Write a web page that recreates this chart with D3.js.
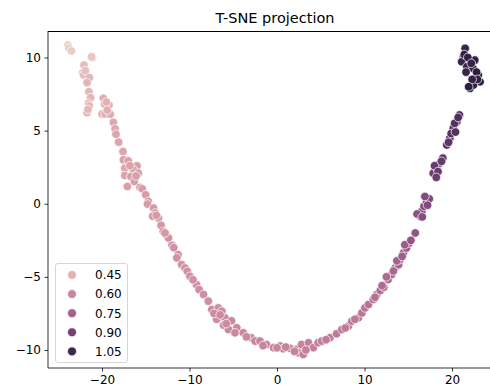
<!DOCTYPE html>
<html>
<head>
<meta charset="utf-8">
<script src="https://cdn.jsdelivr.net/npm/d3@7"></script>
<style>
  html, body { margin: 0; padding: 0; background: #fff; }
  svg { display: block; font-family: "DejaVu Sans", sans-serif; }
</style>
</head>
<body>
<svg id="chart" width="490" height="392"></svg>
<script>
const chartTitle = "T-SNE projection";

const xValues = [
  -23.9, -23.8, -23.5, -21.1, -21.2, -22.06, -22.2, -22.1, -21.9, -21.45,
  -21.7, -21.5, -21.3, -21.55, -21.45, -21.7, -21.6, -19.85, -19.7, -19.2,
  -19.5, -20.0, -19.65, -19.05, -19.4, -18.7, -18.5, -18.4, -18.1, -17.6,
  -17.55, -17.0, -16.0, -17.4, -16.4, -15.85, -17.4, -16.7, -16.3, -17.1,
  -15.65, -15.4, -15.0, -14.7, -14.8, -14.1, -13.9, -14.2, -13.55, -13.25,
  -13.0, -12.7, -12.4, -12.0, -11.3, -11.45, -10.9, -10.5, -10.25, -9.95,
  -9.2, -8.9, -8.4, -7.85, -7.45, -6.7, -6.3, -6.9, -5.95, -5.2,
  -6.1, -5.55, -4.6, -4.8, -3.85, -2.95, -2.5, -1.95, -1.2, -0.4,
  0.35, 0.7, 1.5, 2.25, 2.45, 3.0, 2.8, 3.6, 4.15, 4.7,
  5.1, 6.05, 6.8, 7.4, 8.15, 8.55, 9.3, 9.7, 10.05, 10.45,
  11.0, 11.4, 11.8, 12.2, 12.7, 13.1, 13.5, 13.9, 14.05, 14.45,
  14.8, 15.1, 15.8, 16.35, 16.55, 16.8, 17.1, 17.4, 17.85, 18.25,
  18.6, 18.95, 19.4, 19.75, 20.15, 20.55, 20.85,
  -3.5, -1.6, 0.0, 1.0, 3.3, 2.0, 5.6, 7.8, 8.9, -7.2, -6.5, -5.8,
  -16.8, -16.1, -13.8, -12.8, -11.8, -9.6,
  11.2, 12.0, 12.5, 13.3, 13.7, 14.3, 14.6, 15.3, 16.0, 16.6, 17.2, 16.9,
  18.0, 18.4, 18.2, 18.8, 19.6, 19.9, 20.3, 20.7, 20.4,
  21.5, 21.3, 22.05, 21.1, 22.6, 21.7, 22.4, 23.0, 23.2, 22.6, 22.05, 22.45,
  21.4, 21.8, 22.2, 21.6, 22.8, 22.9, 22.3, 21.9
];

const yValues = [
  10.85, 10.64, 10.44, 9.98, 10.05, 9.48, 8.96, 8.8, 9.1, 8.62,
  8.28, 7.66, 7.25, 6.87, 6.7, 6.23, 6.45, 7.21, 6.82, 6.75,
  6.95, 6.14, 6.14, 6.12, 6.4, 5.57, 5.12, 4.75, 4.21, 3.57,
  3.0, 2.93, 2.59, 2.43, 2.32, 2.09, 1.93, 1.86, 1.52, 1.18,
  1.11, 1.02, 0.61, 0.16, -0.02, -0.3, -0.64, -0.86, -0.98, -1.48,
  -1.89, -2.11, -2.34, -2.84, -3.48, -3.7, -4.16, -4.39, -4.62, -4.96,
  -5.53, -5.87, -6.2, -6.66, -7.23, -7.12, -7.35, -7.9, -7.8, -8.0,
  -8.3, -8.6, -8.48, -8.82, -8.82, -9.16, -9.39, -9.39, -9.62, -9.84,
  -9.73, -9.91, -9.89, -9.96, -10.19, -10.3, -9.62, -9.5, -9.84, -9.5,
  -9.39, -9.16, -8.89, -8.6, -8.37, -8.03, -7.8, -7.46, -7.12, -6.89,
  -6.55, -6.21, -5.93, -5.71, -5.18, -4.84, -4.39, -4.16, -3.82, -3.36,
  -3.02, -2.68, -2.0, -0.86, -0.52, -0.18, 0.16, 0.34, 2.09, 2.43,
  2.78, 3.12, 4.02, 4.48, 5.16, 5.61, 6.07,
  -9.1, -9.7, -9.85, -9.8, -10.0, -10.1, -9.3, -8.5, -7.9, -7.5, -7.6, -8.2,
  2.6, 1.9, -0.8, -2.0, -3.0, -5.2,
  -6.4, -5.6, -5.0, -4.6, -3.9, -3.6, -2.8, -2.5, -0.7, -0.9, -0.1, 0.5,
  2.6, 2.2, 1.8, 2.9, 4.2, 4.8, 5.5, 5.9, 4.9,
  10.62, 10.05, 9.82, 9.71, 9.82, 9.37, 9.25, 8.8, 8.34, 8.57, 7.89, 8.12,
  10.2, 10.0, 9.6, 9.0, 9.0, 8.5, 8.5, 8.0
];

const hueValues = [
  0.36, 0.37, 0.38, 0.40, 0.40, 0.43, 0.42, 0.43, 0.42, 0.45,
  0.45, 0.44, 0.45, 0.43, 0.44, 0.45, 0.44, 0.47, 0.48, 0.47,
  0.46, 0.46, 0.47, 0.48, 0.47, 0.49, 0.49, 0.50, 0.50, 0.50,
  0.51, 0.51, 0.52, 0.50, 0.52, 0.53, 0.51, 0.52, 0.52, 0.52,
  0.53, 0.53, 0.53, 0.54, 0.53, 0.54, 0.54, 0.55, 0.54, 0.55,
  0.55, 0.55, 0.56, 0.56, 0.56, 0.57, 0.56, 0.57, 0.57, 0.58,
  0.57, 0.58, 0.58, 0.58, 0.59, 0.58, 0.59, 0.59, 0.59, 0.60,
  0.59, 0.60, 0.60, 0.60, 0.60, 0.60, 0.61, 0.61, 0.61, 0.61,
  0.62, 0.62, 0.62, 0.63, 0.63, 0.63, 0.62, 0.63, 0.63, 0.64,
  0.64, 0.64, 0.65, 0.65, 0.66, 0.66, 0.67, 0.67, 0.68, 0.68,
  0.69, 0.69, 0.70, 0.71, 0.72, 0.73, 0.74, 0.75, 0.76, 0.77,
  0.78, 0.79, 0.81, 0.83, 0.84, 0.85, 0.86, 0.86, 0.92, 0.93,
  0.94, 0.94, 0.97, 0.98, 0.99, 1.00, 1.01,
  0.60, 0.61, 0.61, 0.62, 0.63, 0.62, 0.64, 0.65, 0.66, 0.59, 0.59, 0.59,
  0.51, 0.52, 0.54, 0.55, 0.56, 0.57,
  0.69, 0.71, 0.72, 0.73, 0.75, 0.77, 0.78, 0.80, 0.83, 0.84, 0.86, 0.85,
  0.93, 0.93, 0.92, 0.94, 0.97, 0.98, 0.99, 1.00, 0.99,
  1.06, 1.07, 1.08, 1.06, 1.09, 1.07, 1.08, 1.09, 1.10, 1.09, 1.10, 1.10,
  1.08, 1.09, 1.08, 1.07, 1.10, 1.09, 1.08, 1.10
];

const xTickValues = [-20, -10, 0, 10, 20];
const yTickValues = [-10, -5, 0, 5, 10];
const legendValues = [0.45, 0.60, 0.75, 0.90, 1.05];
const legendLabels = ["0.45", "0.60", "0.75", "0.90", "1.05"];

(function () {
// seaborn default "ch:" cubehelix colormap (light -> dark)
function cubehelixCmap(t) {
  t = Math.max(0, Math.min(1, t));
  const xv = 0.85 + (0.15 - 0.85) * t;
  const start = 0, rot = 0.4, gamma = 1.0, hue = 0.8;
  const xg = Math.pow(xv, gamma);
  const a = hue * xg * (1 - xg) / 2;
  const phi = 2 * Math.PI * (start / 3 + rot * xv);
  const c = Math.cos(phi), s = Math.sin(phi);
  const clamp = v => Math.round(255 * Math.max(0, Math.min(1, v)));
  const r = xg + a * (-0.14861 * c + 1.78277 * s);
  const g = xg + a * (-0.29227 * c - 0.90649 * s);
  const b = xg + a * (1.97294 * c);
  return `rgb(${clamp(r)},${clamp(g)},${clamp(b)})`;
}

const points = xValues.map((xv, i) => ({ x: xv, y: yValues[i], h: hueValues[i] }));
const hueExtent = d3.extent(hueValues);
const norm = d3.scaleLinear().domain(hueExtent).range([0, 1]);
const color = v => cubehelixCmap(norm(v));

const svg = d3.select("#chart");
const mLeft = 48, mRight = 502, mTop = 31, mBottom = 368;

const x = d3.scaleLinear().domain([-26.17, 25.71]).range([mLeft, mRight]);
const y = d3.scaleLinear().domain([-11.23, 11.81]).range([mBottom, mTop]);

// points
svg.append("g")
  .selectAll("circle")
  .data(points)
  .join("circle")
  .attr("cx", d => x(d.x))
  .attr("cy", d => y(d.y))
  .attr("r", 4.3)
  .attr("fill", d => color(d.h))
  .attr("stroke", "#fff")
  .attr("stroke-width", 0.7);

// spines
svg.append("line").attr("x1", mLeft).attr("x2", mRight).attr("y1", mTop + 0.5).attr("y2", mTop + 0.5)
  .attr("stroke", "#000").attr("stroke-width", 1);
svg.append("line").attr("x1", mLeft).attr("x2", mLeft).attr("y1", mTop).attr("y2", mBottom)
  .attr("stroke", "#000").attr("stroke-width", 0.8);
svg.append("line").attr("x1", mLeft).attr("x2", mRight).attr("y1", mBottom).attr("y2", mBottom)
  .attr("stroke", "#000").attr("stroke-width", 0.8);

// axes
const xAxis = d3.axisBottom(x).tickValues(xTickValues).tickSize(3.5).tickPadding(3.5)
  .tickFormat(d3.format("d"));
const yAxis = d3.axisLeft(y).tickValues(yTickValues).tickSize(3.5).tickPadding(3.5)
  .tickFormat(d3.format("d"));

const gx = svg.append("g").attr("transform", `translate(0,${mBottom})`).call(xAxis);
const gy = svg.append("g").attr("transform", `translate(${mLeft},0)`).call(yAxis);
[gx, gy].forEach(g => {
  g.select(".domain").remove();
  g.selectAll(".tick line").attr("stroke", "#000").attr("stroke-width", 0.8);
  g.selectAll(".tick text").attr("fill", "#000").style("font-size", "12px")
    .style("font-family", "'DejaVu Sans', sans-serif");
});

// title
svg.append("text")
  .attr("x", (mLeft + mRight) / 2)
  .attr("y", 23)
  .attr("text-anchor", "middle")
  .style("font-size", "14.5px")
  .attr("fill", "#000")
  .text(chartTitle);

// legend
const lg = svg.append("g");
lg.append("rect")
  .attr("x", 55.5).attr("y", 263.5).attr("width", 72).attr("height", 99)
  .attr("rx", 2.5)
  .attr("fill", "#fff").attr("fill-opacity", 0.8)
  .attr("stroke", "#d6d6d6").attr("stroke-width", 1);
const items = lg.selectAll("g.item").data(legendValues).join("g")
  .attr("class", "item")
  .attr("transform", (d, i) => `translate(0,${275 + i * 19.1})`);
items.append("circle").attr("cx", 72).attr("cy", 0).attr("r", 4.5)
  .attr("fill", d => color(d)).attr("stroke", "#fff").attr("stroke-width", 0.7);
items.append("text").attr("x", 95).attr("y", 0).attr("dy", "0.36em")
  .style("font-size", "12px").attr("fill", "#000")
  .text((d, i) => legendLabels[i]);
})();
</script>
</body>
</html>
